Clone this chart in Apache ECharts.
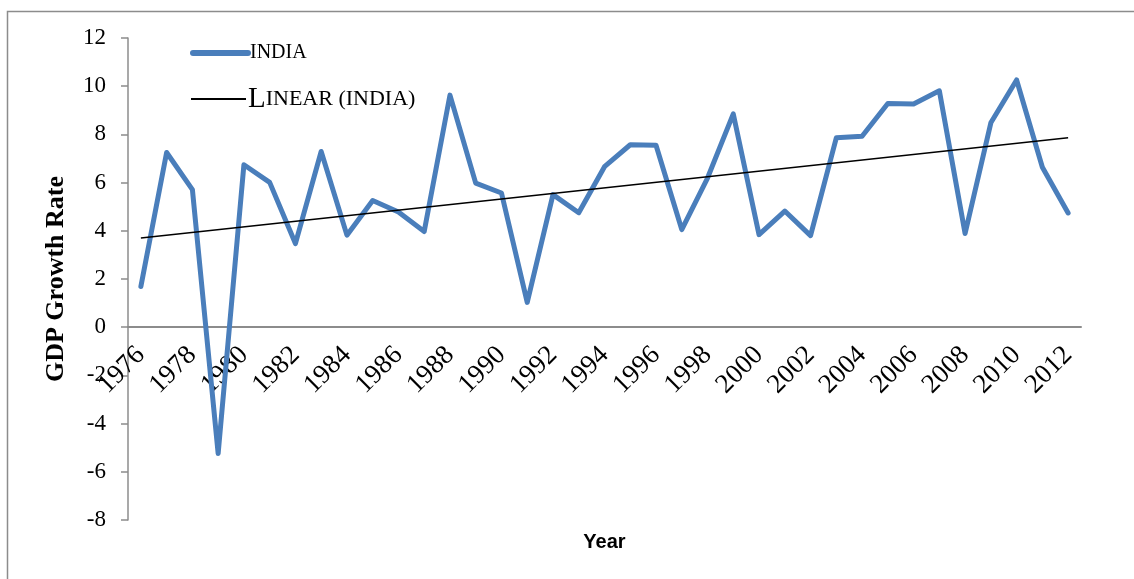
<!DOCTYPE html>
<html>
<head>
<meta charset="utf-8">
<script src="https://cdn.jsdelivr.net/npm/echarts@6/dist/echarts.min.js"></script>
<style>
  html, body { margin: 0; padding: 0; background: #fff; }
  #chart { width: 1134px; height: 579px; }
</style>
</head>
<body>
<div id="chart"></div>
<script>
// years on the x axis
const years = [];
for (let y = 1976; y <= 2012; y++) years.push(String(y));

// GDP growth rate
const india = [
  1.69, 7.25, 5.71, -5.24, 6.74, 6.01, 3.47, 7.29, 3.82, 5.26,
  4.78, 3.97, 9.63, 5.98, 5.57, 1.03, 5.5, 4.75, 6.66, 7.57,
  7.55, 4.05, 6.19, 8.85, 3.84, 4.82, 3.8, 7.86, 7.92, 9.28,
  9.26, 9.81, 3.89, 8.48, 10.26, 6.64, 4.74
];

// trend line end points (Excel linear trendline)
const trendYears = ['1976', '2012'];
const trendValues = [3.70, 7.86];

const serif = 'Liberation Serif';

const chart = echarts.init(document.getElementById('chart'));

// shared legend look, one legend per entry so each row can be placed
const legendBase = {
  orient: 'horizontal',
  left: 190,
  padding: 0,
  itemWidth: 55,
  itemHeight: 30,
  itemStyle: { opacity: 0 },
  textStyle: {
    fontFamily: serif,
    color: '#000',
    lineHeight: 30,
    padding: [0, 0, 0, -3],
    rich: {
      big: { fontFamily: serif, fontSize: 29, lineHeight: 30, color: '#000' },
      sm: { fontFamily: serif, fontSize: 22, lineHeight: 30, color: '#000' },
      xs: { fontFamily: serif, fontSize: 20, lineHeight: 30, color: '#000' }
    }
  },
  formatter: function (name) {
    if (name === 'Linear (India)') return '{big|L}{sm|INEAR (INDIA)}';
    return '{xs|INDIA}';
  }
};

chart.setOption({
  backgroundColor: '#fff',
  animation: false,
  graphic: [{
    type: 'rect',
    shape: { x: 7.5, y: 11.5, width: 1200, height: 700 },
    style: { fill: 'none', stroke: '#8c8c8c', lineWidth: 1.5 },
    silent: true,
    z: -10
  }],
  legend: [
    Object.assign({}, legendBase, {
      top: 38,
      data: [{ name: 'India', lineStyle: { width: 6, cap: 'round' } }]
    }),
    Object.assign({}, legendBase, {
      top: 84,
      data: [{ name: 'Linear (India)', lineStyle: { width: 2 } }]
    })
  ],
  grid: {
    left: 128,
    top: 38,
    right: 53,
    bottom: 59,
    containLabel: false,
    outerBoundsMode: 'none'
  },
  xAxis: {
    type: 'category',
    data: years,
    boundaryGap: true,
    offset: -193,
    name: 'Year',
    nameLocation: 'middle',
    nameGap: 205,
    nameTextStyle: {
      fontFamily: 'Liberation Sans',
      fontWeight: 'bold',
      fontSize: 20,
      color: '#000'
    },
    axisLine: { onZero: false, lineStyle: { color: '#8c8c8c', width: 2 } },
    axisTick: { show: false },
    axisLabel: {
      interval: 1,
      rotate: 45,
      margin: 24,
      fontFamily: serif,
      fontSize: 27,
      color: '#000'
    },
    splitLine: { show: false }
  },
  yAxis: {
    type: 'value',
    min: -8,
    max: 12,
    interval: 2,
    name: 'GDP Growth Rate',
    nameLocation: 'middle',
    nameGap: 59,
    nameTextStyle: {
      fontFamily: serif,
      fontWeight: 'bold',
      fontSize: 26,
      color: '#000'
    },
    axisLine: { show: true, lineStyle: { color: '#8c8c8c', width: 1.5 } },
    axisTick: { show: true, length: 7, lineStyle: { color: '#8c8c8c', width: 1.5 } },
    axisLabel: {
      margin: 22,
      fontFamily: serif,
      fontSize: 23,
      color: '#000'
    },
    splitLine: { show: false }
  },
  series: [
    {
      name: 'India',
      type: 'line',
      data: india,
      symbol: 'none',
      color: '#4a7ebb',
      lineStyle: { width: 5, color: '#4a7ebb', cap: 'round', join: 'round' },
      z: 2
    },
    {
      name: 'Linear (India)',
      type: 'line',
      data: trendYears.map((y, i) => [y, trendValues[i]]),
      symbol: 'none',
      color: '#000',
      lineStyle: { width: 1.5, color: '#000' },
      z: 3
    }
  ]
});
</script>
</body>
</html>
